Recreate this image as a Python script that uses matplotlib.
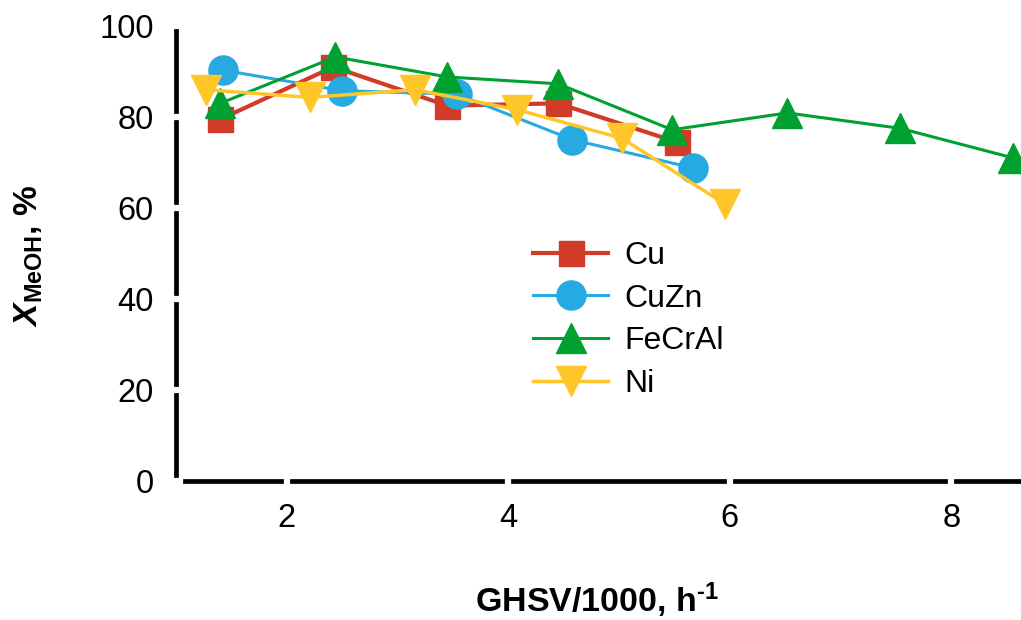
import matplotlib
matplotlib.use("Agg")
import matplotlib.pyplot as plt

# Methanol conversion vs GHSV for four catalysts
cu_x = [1.40, 2.42, 3.45, 4.45, 5.52]
cu_y = [79.5, 91.0, 82.5, 83.0, 74.5]

cuzn_x = [1.42, 2.50, 3.54, 4.58, 5.67]
cuzn_y = [90.3, 85.8, 85.0, 75.0, 68.8]

fecral_x = [1.40, 2.44, 3.45, 4.45, 5.48, 6.52, 7.54, 8.56]
fecral_y = [83.0, 93.2, 88.8, 87.3, 77.2, 80.9, 77.5, 71.0]

ni_x = [1.27, 2.21, 3.16, 4.08, 5.03, 5.96]
ni_y = [86.0, 84.3, 86.0, 81.6, 75.3, 60.8]

x_ticks = [2, 4, 6, 8]
y_ticks = [0, 20, 40, 60, 80, 100]

plt.rcParams["font.family"] = ["Liberation Sans", "DejaVu Sans"]
plt.rcParams["mathtext.fontset"] = "custom"
plt.rcParams["mathtext.rm"] = "Liberation Sans:bold"
plt.rcParams["mathtext.bf"] = "Liberation Sans:bold"
plt.rcParams["mathtext.it"] = "Liberation Sans:italic"
plt.rcParams["mathtext.bfit"] = "Liberation Sans:italic:bold"

W, H = 1021, 620
fig = plt.figure(figsize=(W / 100, H / 100), dpi=100)
ax = fig.add_axes([176 / W, 1 - 481 / H, (W - 176) / W, (481 - 26) / H])

ax.plot(cu_x, cu_y, color="#D13B27", lw=3.0, marker="s", ms=18, label="Cu")
ax.plot(cuzn_x, cuzn_y, color="#27AAE1", lw=2.2, marker="o", ms=21, label="CuZn")
ax.plot(fecral_x, fecral_y, color="#00A031", lw=2.2, marker="^", ms=21, label="FeCrAl")
ax.plot(ni_x, ni_y, color="#FFC629", lw=2.5, marker="v", ms=21, label="Ni")

ax.set_xlim(1.0, 8.63)
ax.set_ylim(0, 100)
ax.set_xticks(x_ticks)
ax.set_yticks(y_ticks)

# spines: thick black, split apart at the corner, ticks cut white gaps
for side in ["top", "right"]:
    ax.spines[side].set_visible(False)
for side in ["left", "bottom"]:
    ax.spines[side].set_linewidth(3.4)
    ax.spines[side].set_zorder(1)
ax.spines["left"].set_bounds(0.8, 99.2)
ax.spines["bottom"].set_bounds(1.08, 8.63)

ax.tick_params(axis="both", direction="inout", length=10, width=4.5,
               color="white", labelsize=23.5, pad=11)
ax.patch.set_alpha(0)

leg = ax.legend(loc="upper left", bbox_to_anchor=(0.4225, 0.528), frameon=False,
                fontsize=23, handlelength=2.35, handletextpad=0.5,
                labelspacing=0.4, borderpad=0, borderaxespad=0)

fig.text(597 / W, 1 - 600 / H, r"GHSV/1000, h$^{\text{-}1}$", fontsize=24.5,
         fontweight="bold", ha="center", va="center")
fig.text(29 / W, 1 - 256 / H, r"$\mathbfit{X}_{\mathbf{MeOH}}$, %", fontsize=24,
         fontweight="bold", rotation=90, ha="center", va="center")

fig.savefig("out.png", dpi=100)
